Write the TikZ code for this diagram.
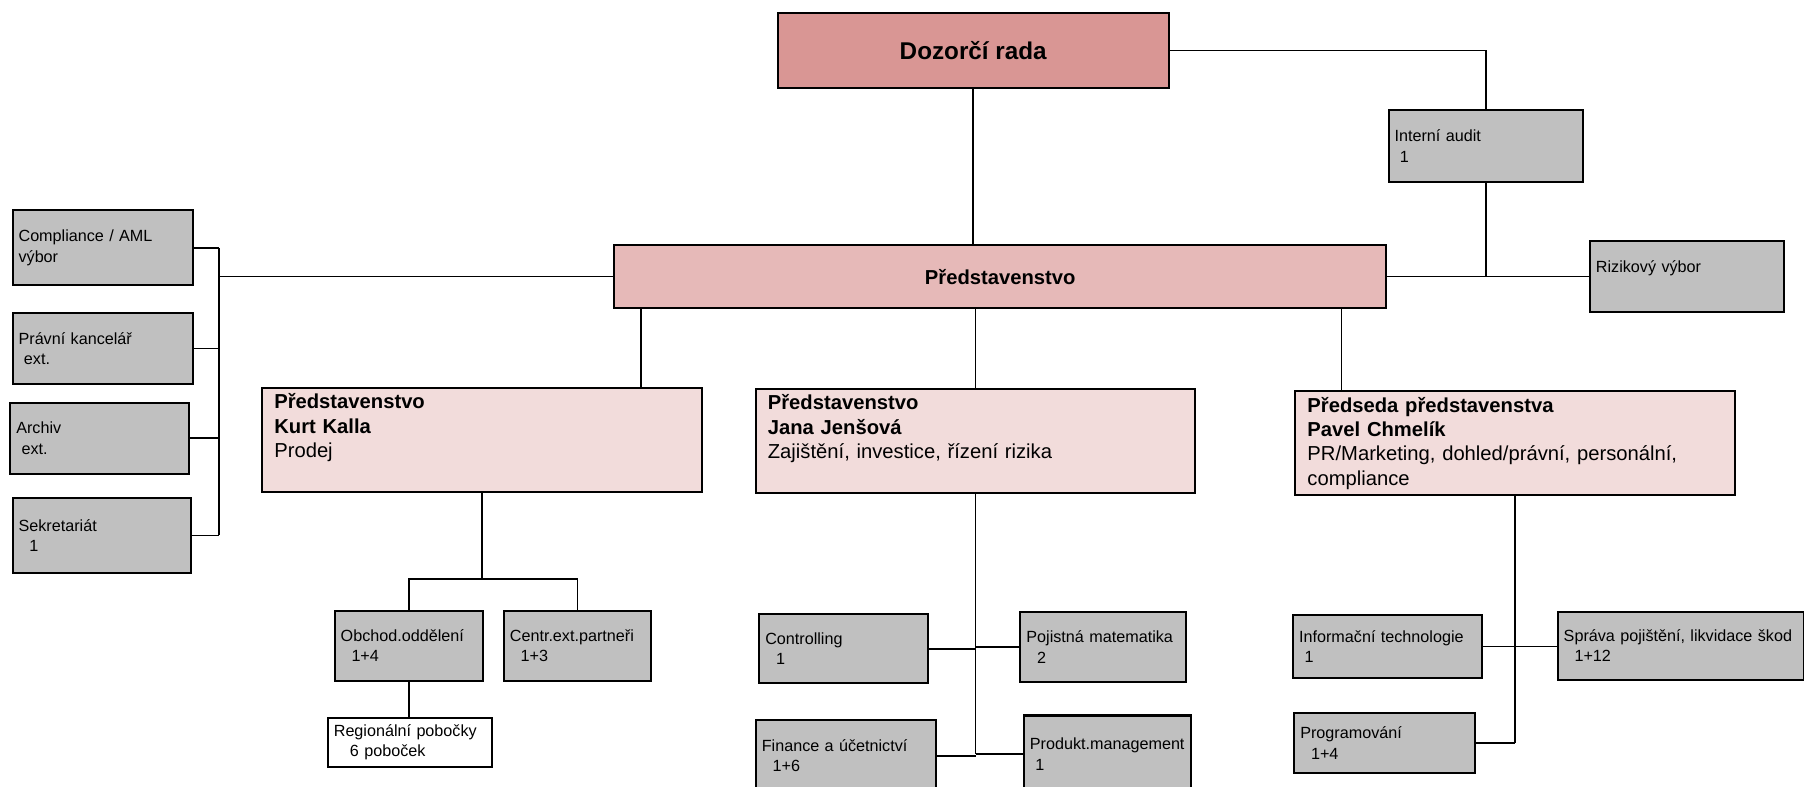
\documentclass[tikz,border=0pt]{standalone}
\usepackage{fontspec}
\setmainfont{Liberation Sans}

\definecolor{dozorred}{RGB}{217,150,148}
\definecolor{boardpink}{RGB}{230,185,184}
\definecolor{memberpink}{RGB}{242,220,219}
\definecolor{deptgray}{RGB}{192,192,192}

\hyphenpenalty=10000

\begin{document}
\begin{tikzpicture}[x = 0.02cm, y = -0.02cm,
	box/.style = {draw, line width = 1pt, anchor = north west, align = left, inner xsep = 3pt, inner ysep = 2pt},
	dept/.style 2 args = {box, fill = deptgray, font = \fontsize{8}{10}\selectfont, text width = #1 * \px - 6pt, minimum height = #2 * \px},
	member/.style = {box, fill = memberpink, font = \fontsize{10}{12}\selectfont, inner xsep = 6pt, text width = 382 * \px - 12pt, text height = 8.5pt, text depth = 39pt},
	link/.style = {line width = 0.9pt}]

	% Definitions
	
	\def\px{0.02cm}		% One pixel of the chart
	
	\useasboundingbox (0, 0) rectangle (1568, 684);
	
	% Supervisory board and board
	
	\node [box, fill = dozorred, align = center, minimum width = 340 * \px, minimum height = 66 * \px, font = \bfseries\fontsize{12}{14}\selectfont] (dozor) at (675, 10) {Dozorčí rada};
	\node [box, fill = boardpink, align = center, minimum width = 671 * \px, minimum height = 55 * \px, font = \bfseries\fontsize{10}{12}\selectfont] (predst) at (533, 212) {Představenstvo};
	\node [dept = {169}{62}] (audit) at (1206, 95) {Interní audit\\\ 1};
	\node [dept = {169}{61}] (riziko) at (1381, 209) {Rizikový výbor\\~};
	
	% Staff units
	
	\node [dept = {157}{65}] (compl) at (10, 182) {Compliance / AML\\výbor};
	\node [dept = {157}{62}] (pravni) at (10, 271) {Právní kancelář\\\ ext.};
	\node [dept = {155}{62}] (archiv) at (8, 349) {Archiv\\\ ext.};
	\node [dept = {155}{65}] (sekr) at (10, 432) {Sekretariát\\\ \ 1};
	
	% Board members
	
	\node [member] (kalla) at (227, 336) {\textbf{Představenstvo}\\\textbf{Kurt Kalla}\\Prodej};
	\node [member] (jensova) at (656, 337) {\textbf{Představenstvo}\\\textbf{Jana Jenšová}\\Zajištění, investice, řízení rizika};
	\node [member] (chmelik) at (1125, 339) {\textbf{Předseda představenstva}\\\textbf{Pavel Chmelík}\\PR/Marketing, dohled/právní, personální,\\compliance};
	
	% Sales
	
	\node [dept = {129}{61}] (obchod) at (290, 530) {Obchod.oddělení\\\ \ 1+4};
	\node [dept = {128}{61}] (centr) at (437, 530) {Centr.ext.partneři\\\ \ 1+3};
	\node [dept = {143}{43}, fill = white] (region) at (284, 623) {Regionální pobočky\\\ \ \ 6 poboček};
	
	% Reinsurance, investment, risk
	
	\node [dept = {147}{60}] (control) at (659, 533) {Controlling\\\ \ 1};
	\node [dept = {144}{61}] (pojist) at (886, 531) {Pojistná matematika\\\ \ 2};
	\node [dept = {157}{62}] (finance) at (656, 625) {Finance a účetnictví\\\ \ 1+6};
	\node [dept = {145}{67}] (produkt) at (889, 621) {Produkt.management\\\ 1};
	
	% Chairman
	
	\node [dept = {164}{54}] (info) at (1123, 534) {Informační technologie\\\ 1};
	\node [dept = {214}{59}] (sprava) at (1353, 531) {Správa pojištění, likvidace škod\\\ \ 1+12};
	\node [dept = {157}{52}] (program) at (1124, 619) {Programování\\\ \ 1+4};
	
	% Top connectors
	
	\draw [link] (dozor.south) -- (dozor.south |- predst.north);
	\draw [link] (dozor.east) -| (audit.north);
	\draw [link] (audit.south) -- (audit.south |- predst.east);
	\draw [link] (predst.east) -- (riziko.west);
	
	% Staff bus
	
	\coordinate (bus) at (190, 0);
	\draw [link] (predst.west) -- (predst.west -| bus);
	\draw [link] (compl.east -| bus) -- (sekr.east -| bus);
	\foreach \n in {compl, pravni, archiv, sekr}
		\draw [link] (\n.east) -- (\n.east -| bus);
	
	% Board members
	
	\coordinate (kallalink) at (557, 0);
	\coordinate (chmeliklink) at (1166, 0);
	\draw [link] (kallalink |- predst.south) -- (kallalink |- kalla.north);
	\draw [link] (jensova.north |- predst.south) -- (jensova.north);
	\draw [link] (chmeliklink |- predst.south) -- (chmeliklink |- chmelik.north);
	
	% Sales tree
	
	\coordinate (salesfork) at (0, 503);
	\draw [link] (kalla.south) -- (kalla.south |- salesfork);
	\draw [link] (obchod.north) |- (kalla.south |- salesfork) -| (centr.north);
	\draw [link] (obchod.south) -- (obchod.south |- region.north);
	
	% Reinsurance tree
	
	\draw [link] (jensova.south) -- (jensova.south |- produkt.west);
	\foreach \n in {control, finance}
		\draw [link] (\n.east) -- (\n.east -| jensova.south);
	\foreach \n in {pojist, produkt}
		\draw [link] (\n.west) -- (\n.west -| jensova.south);
	
	% Chairman tree
	
	\draw [link] (chmelik.south) -- (chmelik.south |- program.east);
	\draw [link] (info.east) -- (info.east -| sprava.west);
	\draw [link] (program.east) -- (program.east -| chmelik.south);

\end{tikzpicture}
\end{document}
